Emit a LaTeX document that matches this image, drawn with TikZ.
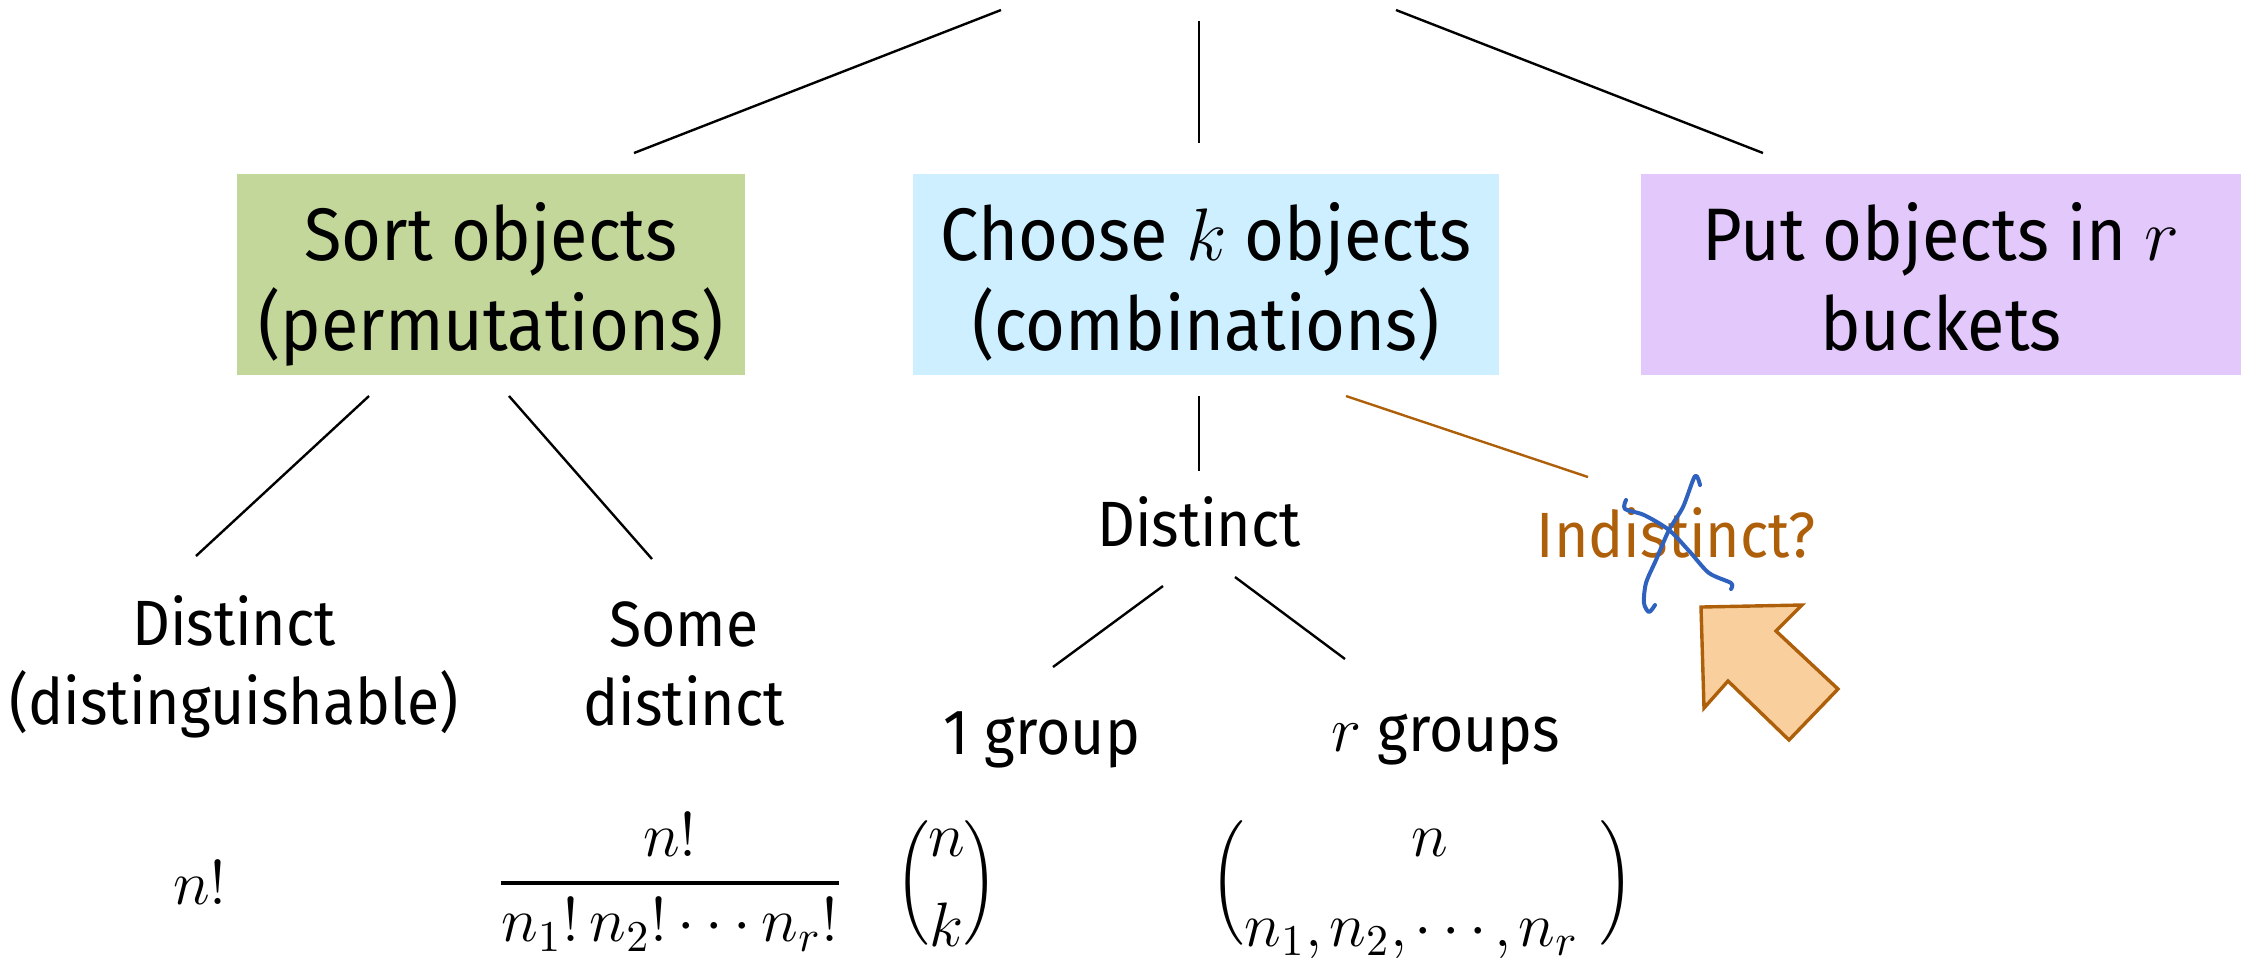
\documentclass[tikz,border=0pt]{standalone}
\usepackage{fix-cm}
\usepackage{amsmath}
\usepackage{graphicx}
\usepackage{fontspec}
\setmainfont[FakeStretch=0.92]{Fira Sans}
\definecolor{sortgreen}{HTML}{C4D79B}
\definecolor{chooseblue}{HTML}{CDEFFF}
\definecolor{bucketpurple}{HTML}{E2C8FB}
\definecolor{askbrown}{HTML}{AE5F0A}
\definecolor{askfill}{HTML}{F8CF9D}
\definecolor{inkblue}{HTML}{2F62BE}
\newcommand{\tallparen}[1]{\vcenter{\hbox{\scalebox{1}[1.2]{$\Big#1$}}}}
\newcommand{\stackbinom}[3][0mu]{\tallparen{(}\mkern#1\begin{array}{@{}c@{}}#2\\#3\end{array}\mkern#1\tallparen{)}}
\newcommand{\boxstrut}{\rule{0pt}{21pt}}
\tikzset{
  bigtext/.style={font=\fontsize{16}{19.6}\selectfont,align=center,inner sep=0pt},
  mathtext/.style={font=\fontsize{15.7}{22.5}\selectfont,inner sep=0pt},
  casebox/.style={font=\fontsize{18.6}{22.5}\selectfont,align=center,inner sep=0pt,minimum height=50.25pt,execute at end node={\rule[-5.7pt]{0pt}{5.7pt}}},
  link/.style={line width=0.6pt,black},
  asklink/.style={line width=0.6pt,askbrown},
  ink/.style={line width=1pt,inkblue,line cap=round,line join=round},
}
\begin{document}
\begin{tikzpicture}[x=0.25pt,y=-0.25pt]
\useasboundingbox (0,0) rectangle (2241,958);
% top row
\node[casebox,fill=sortgreen,minimum width=127pt] (sortbox) at (491,274.5) {\boxstrut Sort objects\\(permutations)};
\node[casebox,fill=chooseblue,minimum width=146.5pt] (choosebox) at (1206,274.5) {\boxstrut Choose $k$ objects\\(combinations)};
\node[casebox,fill=bucketpurple,minimum width=150pt] (putbox) at (1941,274.5) {\boxstrut Put objects in $r$\\buckets};
\coordinate (topl) at (1001,10);
\coordinate (topm) at (1199,21);
\coordinate (topr) at (1396,10);
\coordinate (sortin) at (634,153);
\coordinate (choosein) at (1199,143);
\coordinate (putin) at (1763,153);
\draw[link] (topl) -- (sortin);
\draw[link] (topm) -- (choosein);
\draw[link] (topr) -- (putin);
% second row
\node[bigtext] (distinct) at (234,667) {Distinct\\(distinguishable)};
\node[bigtext] (somedistinct) at (684,664) {Some\\distinct};
\node[bigtext] (choosedistinct) at (1199,522) {Distinct};
\node[bigtext,text=askbrown] (indistinct) at (1676,533) {Indistinct?};
\node[bigtext] (onegroup) at (1042,740) {1 group};
\node[bigtext] (rgroups) at (1446,740) {$r$ groups};
\coordinate (sorta) at (369,396);
\coordinate (sortb) at (509,396);
\coordinate (distincttop) at (196,556);
\coordinate (sometop) at (652,559);
\draw[link] (sorta) -- (distincttop);
\draw[link] (sortb) -- (sometop);
\coordinate (choosea) at (1199,396);
\coordinate (choosedist) at (1199,471);
\draw[link] (choosea) -- (choosedist);
\coordinate (chooseb) at (1346,396);
\coordinate (indisttop) at (1588,477);
\draw[asklink] (chooseb) -- (indisttop);
\coordinate (dista) at (1163,586);
\coordinate (distb) at (1235,577);
\coordinate (onetop) at (1053,667);
\coordinate (rtop) at (1345,659);
\draw[link] (dista) -- (onetop);
\draw[link] (distb) -- (rtop);
% formulas
\node[mathtext] (fact) at (200,883) {$n!$};
\node[mathtext] (permfrac) at (670,882) {$\genfrac{}{}{1pt}{0}{n!}{n_1!\,n_2!\cdots n_r!}$};
\node[mathtext] (binomk) at (947,883) {$\stackbinom[-0.5mu]{n}{k}$};
\node[mathtext] (binomr) at (1422,883) {$\stackbinom{\hspace{4pt}n}{n_1,\mkern-1mu n_2,\mkern-1mu\cdots\mkern-1mu,\mkern-1mu n_r\mkern6mu}$};
% pointer and crossing out
\draw[line width=0.85pt,askbrown,fill=askfill,line join=miter] (1701,607) -- (1802,605) -- (1776,631) -- (1838,689) -- (1789,740) -- (1728,681) -- (1704,708) -- cycle;
\draw[ink] plot[smooth] coordinates {(1700,485) (1695,476) (1683,507) (1669,530) (1656,560) (1646,583) (1644,603) (1649,612) (1655,605)};
\draw[ink] plot[smooth] coordinates {(1626,500) (1625,509) (1644,515) (1669,530) (1690,552) (1709,573) (1731,583) (1731,589)};
\end{tikzpicture}
\end{document}
